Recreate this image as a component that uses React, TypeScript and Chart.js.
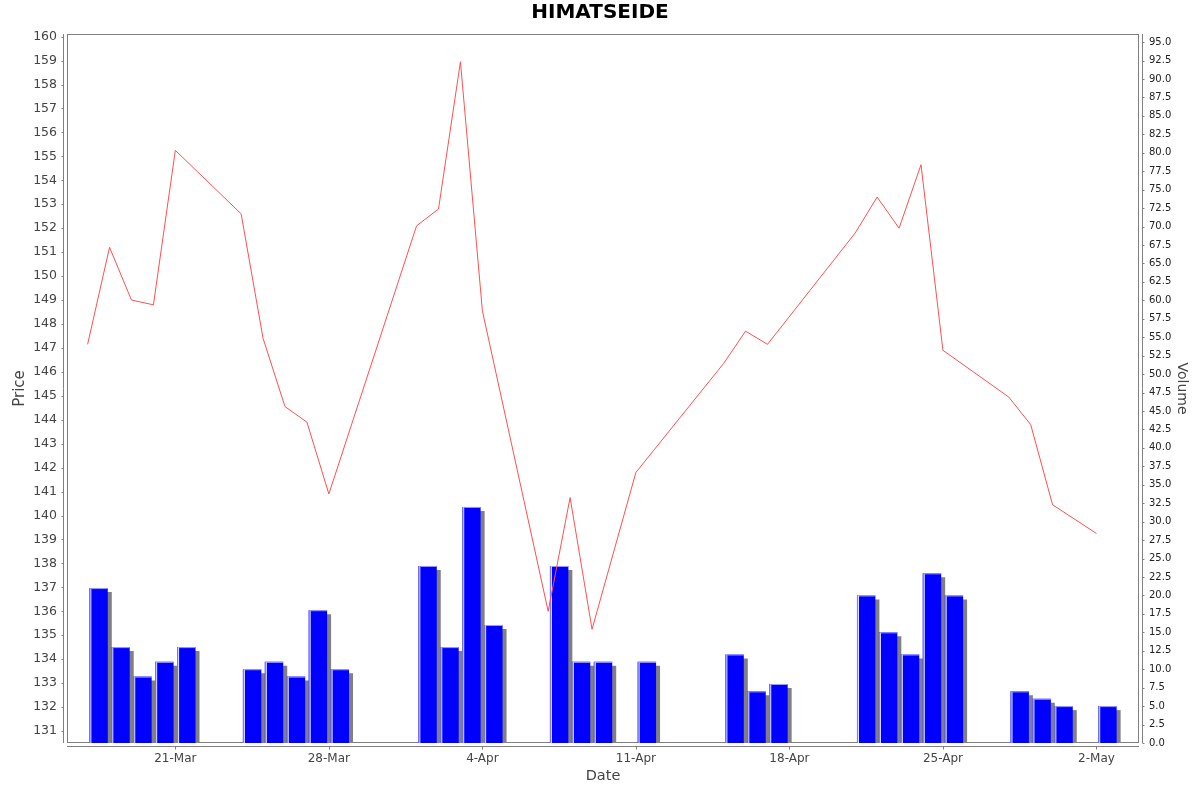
import React, { useEffect, useRef } from 'react';
import { Chart, registerables } from 'chart.js';

Chart.register(...registerables);

// trading days (2025) with closing price and traded volume
const dates = [
  '2025-03-17', '2025-03-18', '2025-03-19', '2025-03-20', '2025-03-21',
  '2025-03-24', '2025-03-25', '2025-03-26', '2025-03-27', '2025-03-28',
  '2025-04-01', '2025-04-02', '2025-04-03', '2025-04-04',
  '2025-04-07', '2025-04-08', '2025-04-09', '2025-04-11',
  '2025-04-15', '2025-04-16', '2025-04-17',
  '2025-04-21', '2025-04-22', '2025-04-23', '2025-04-24', '2025-04-25',
  '2025-04-28', '2025-04-29', '2025-04-30', '2025-05-02',
];

const prices = [
  147.15, 151.2, 149.0, 148.8, 155.25,
  152.6, 147.4, 144.55, 143.9, 140.9,
  152.1, 152.8, 158.95, 148.55,
  136.0, 140.75, 135.25, 141.8,
  146.35, 147.7, 147.15,
  151.8, 153.3, 152.0, 154.65, 146.9,
  144.95, 143.8, 140.45, 139.25,
];

const volumes = [
  21, 13, 9, 11, 13,
  10, 11, 9, 18, 10,
  24, 13, 32, 16,
  24, 11, 11, 11,
  12, 7, 8,
  20, 15, 12, 23, 20,
  7, 6, 5, 5,
];

const dateTicks = ['21-Mar', '28-Mar', '4-Apr', '11-Apr', '18-Apr', '25-Apr', '2-May'];

const priceTicks = [
  131, 132, 133, 134, 135, 136, 137, 138, 139, 140,
  141, 142, 143, 144, 145, 146, 147, 148, 149, 150,
  151, 152, 153, 154, 155, 156, 157, 158, 159, 160,
];

const volumeTicks = [
  0, 2.5, 5, 7.5, 10, 12.5, 15, 17.5, 20, 22.5,
  25, 27.5, 30, 32.5, 35, 37.5, 40, 42.5, 45, 47.5,
  50, 52.5, 55, 57.5, 60, 62.5, 65, 67.5, 70, 72.5,
  75, 77.5, 80, 82.5, 85, 87.5, 90, 92.5, 95,
];

const YEAR = 2025;
const DAY = 86400000;
const BASE = Date.UTC(2025, 2, 17);
const MONTHS: Record<string, number> = { Jan: 0, Feb: 1, Mar: 2, Apr: 3, May: 4, Jun: 5 };

const dayOf = (iso: string) => (Date.parse(iso + 'T00:00:00Z') - BASE) / DAY;
const tickDay = (label: string) => {
  const [d, m] = label.split('-');
  return (Date.UTC(YEAR, MONTHS[m], Number(d)) - BASE) / DAY;
};

const FONT = 'DejaVu Sans';
const GREY = '#808080';

// plot frame, detached axis lines, bar shadows and bar highlights
const framePlugin = {
  id: 'frame',
  beforeDatasetsDraw(chart: any) {
    const { ctx, chartArea: a, scales } = chart;
    ctx.save();
    ctx.strokeStyle = GREY;
    ctx.lineWidth = 1;
    ctx.strokeRect(a.left + 0.5, a.top + 0.5, a.right - a.left - 1, a.bottom - a.top - 1);

    const lx = a.left - 3.5;
    const rx = a.right + 3.5;
    const by = a.bottom + 3.5;
    ctx.beginPath();
    ctx.moveTo(lx, a.top);
    ctx.lineTo(lx, a.bottom);
    ctx.moveTo(rx, a.top);
    ctx.lineTo(rx, a.bottom);
    ctx.moveTo(a.left, by);
    ctx.lineTo(a.right, by);
    scales.y.ticks.forEach((t: any) => {
      const py = Math.round(scales.y.getPixelForValue(t.value)) + 0.5;
      ctx.moveTo(lx - 2, py);
      ctx.lineTo(lx, py);
    });
    scales.y1.ticks.forEach((t: any) => {
      const py = Math.round(scales.y1.getPixelForValue(t.value)) + 0.5;
      ctx.moveTo(rx, py);
      ctx.lineTo(rx + 2, py);
    });
    scales.x.ticks.forEach((t: any) => {
      const px = Math.round(scales.x.getPixelForValue(t.value)) + 0.5;
      ctx.moveTo(px, by);
      ctx.lineTo(px, by + 3);
    });
    ctx.stroke();
    ctx.restore();
  },
  beforeDatasetDraw(chart: any, args: any) {
    if (args.meta.type !== 'bar') return;
    const { ctx } = chart;
    ctx.save();
    ctx.shadowColor = GREY;
    ctx.shadowOffsetX = 4;
    ctx.shadowOffsetY = 4;
    ctx.shadowBlur = 0;
  },
  afterDatasetDraw(chart: any, args: any) {
    if (args.meta.type !== 'bar') return;
    const { ctx, chartArea: a } = chart;
    ctx.restore();
    ctx.save();
    ctx.beginPath();
    ctx.rect(a.left, a.top, a.right - a.left, a.bottom - a.top);
    ctx.clip();
    args.meta.data.forEach((el: any) => {
      const { x, y, base, width } = el.getProps(['x', 'y', 'base', 'width'], true);
      const left = x - width / 2;
      ctx.fillStyle = '#7f7fff';
      ctx.fillRect(left, y, 1, base - y);
      ctx.fillStyle = '#e6e6ff';
      ctx.fillRect(left + 1, y, 1, base - y);
      ctx.fillStyle = '#a0a0ff';
      ctx.fillRect(left + 2, y, width - 2, 1);
    });
    ctx.restore();
  },
};

const App: React.FC = () => {
  const canvasRef = useRef<HTMLCanvasElement | null>(null);

  useEffect(() => {
    document.body.style.margin = '0';
    if (!canvasRef.current) return;

    const priceData = dates.map((d, i) => ({ x: dayOf(d), y: prices[i] }));
    const volumeData = dates.map((d, i) => ({ x: dayOf(d) + 0.5, y: volumes[i] }));

    const chart = new Chart(canvasRef.current, {
      type: 'bar',
      data: {
        datasets: [
          {
            type: 'line',
            label: 'Price',
            data: priceData,
            yAxisID: 'y',
            borderColor: '#ff5050',
            borderWidth: 1,
            pointRadius: 0,
            tension: 0,
            order: 0,
          } as any,
          {
            type: 'bar',
            label: 'Volume',
            data: volumeData,
            yAxisID: 'y1',
            backgroundColor: '#0000ff',
            borderWidth: 0,
            barPercentage: 0.84,
            categoryPercentage: 1,
            order: 1,
          } as any,
        ],
      },
      options: {
        responsive: false,
        animation: false,
        layout: { padding: 0 },
        plugins: {
          legend: { display: false },
          tooltip: { enabled: false },
          title: {
            display: true,
            text: 'HIMATSEIDE',
            color: '#000',
            font: { family: FONT, size: 20, weight: 'bold' },
            padding: { top: 1, bottom: 9 },
          },
        },
        scales: {
          x: {
            type: 'linear',
            min: -0.94,
            max: 47.94,
            offset: false,
            grid: { display: false, drawTicks: false },
            border: { display: false },
            afterBuildTicks: (s: any) => {
              s.ticks = dateTicks.map((l) => ({ value: tickDay(l) }));
            },
            ticks: {
              autoSkip: false,
              maxRotation: 0,
              padding: 9,
              color: '#444',
              font: { family: FONT, size: 12 },
              callback: (_v: any, i: number) => dateTicks[i],
            },
            title: {
              display: true,
              text: 'Date',
              color: '#444',
              font: { family: FONT, size: 14.5 },
              padding: { top: 0, bottom: 7 },
            },
            afterFit: (s: any) => {
              s.height = 49;
            },
          },
          y: {
            type: 'linear',
            position: 'left',
            min: 130.5,
            max: 160.11,
            grid: { display: false, drawTicks: false },
            border: { display: false },
            afterBuildTicks: (s: any) => {
              s.ticks = priceTicks.map((v) => ({ value: v }));
            },
            ticks: {
              padding: 10,
              color: '#444',
              font: { family: FONT, size: 12.5 },
              callback: (v: any) => String(v),
            },
            title: {
              display: true,
              text: 'Price',
              color: '#444',
              font: { family: FONT, size: 15 },
              padding: { top: 11, bottom: 0 },
            },
            afterFit: (s: any) => {
              s.width = 67;
            },
          },
          y1: {
            type: 'linear',
            position: 'right',
            min: 0,
            max: 96.1,
            grid: { display: false, drawTicks: false },
            border: { display: false },
            afterBuildTicks: (s: any) => {
              s.ticks = volumeTicks.map((v) => ({ value: v }));
            },
            ticks: {
              padding: 10,
              color: '#222',
              font: { family: FONT, size: 10 },
              callback: (v: any) => Number(v).toFixed(1),
            },
            title: {
              display: true,
              text: 'Volume',
              color: '#444',
              font: { family: FONT, size: 14 },
              padding: { top: 10, bottom: 0 },
            },
            afterFit: (s: any) => {
              s.width = 61;
            },
          },
        },
      } as any,
      plugins: [framePlugin],
    });

    return () => {
      chart.destroy();
    };
  }, []);

  return (
    <div style={{ width: 1200, height: 792, background: '#fff' }}>
      <canvas ref={canvasRef} width={1200} height={792} style={{ display: 'block' }}></canvas>
    </div>
  );
};

export default App;
